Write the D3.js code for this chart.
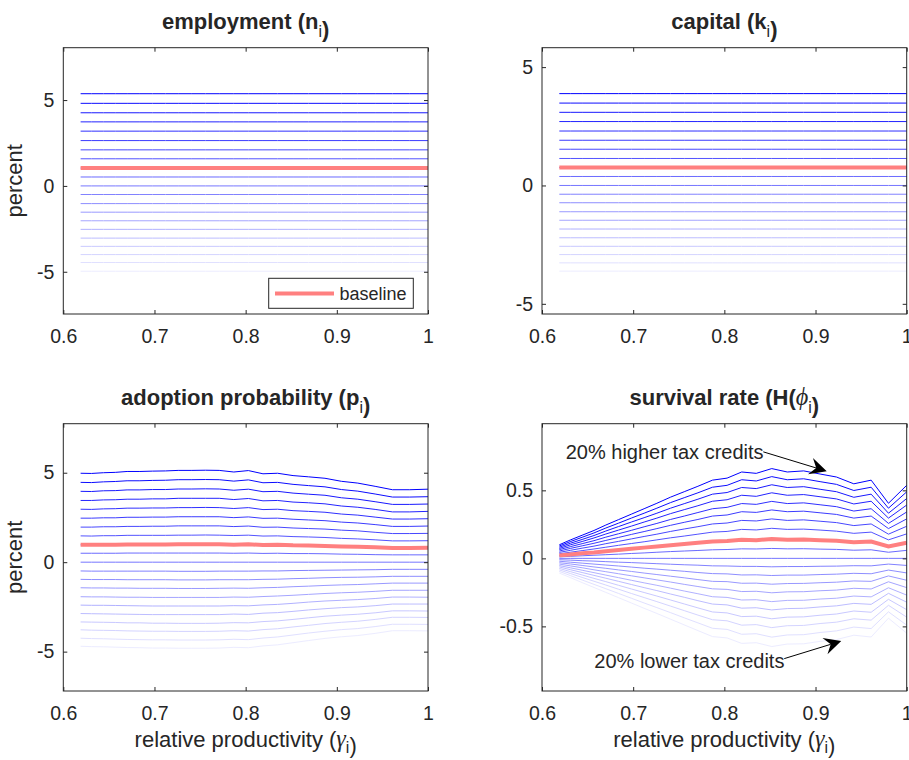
<!DOCTYPE html>
<html>
<head>
<meta charset="utf-8">
<script src="https://cdn.jsdelivr.net/npm/d3@7"></script>
<style>
  body { margin: 0; background: #fff; }
  svg text { font-family: "Liberation Sans", Arial, Helvetica, sans-serif; fill: #262626; }
  .greek { font-family: "Liberation Serif", "DejaVu Serif", serif; font-style: italic; }
</style>
</head>
<body>
<div id="chart"></div>
<script>
// relative productivity grid (x axis)
var gamma = [0.619, 0.631, 0.644, 0.657, 0.670, 0.684, 0.698, 0.712, 0.726, 0.741, 0.756, 0.771, 0.787,
             0.803, 0.819, 0.835, 0.852, 0.869, 0.887, 0.905, 0.923, 0.942, 0.961, 0.980, 1.000];

// change in tax credits for each line, bottom (-20%) to top (+20%)
var taxChange = [-20, -18, -16, -14, -12, -10, -8, -6, -4, -2, 0, 2, 4, 6, 8, 10, 12, 14, 16, 18, 20];
// the baseline line sits on top of this series
var baselineIndex = 12;

// employment and capital: flat lines, one level per series
var employment = [-4.97, -4.46, -4.00, -3.52, -3.04, -2.53, -2.03, -1.53, -1.03, -0.50, 0,
                  0.52, 1.04, 1.58, 2.10, 2.64, 3.19, 3.73, 4.26, 4.81, 5.37];
var capital = [-3.62, -3.27, -2.92, -2.57, -2.21, -1.84, -1.47, -1.11, -0.73, -0.37, 0,
               0.38, 0.76, 1.14, 1.53, 1.91, 2.30, 2.70, 3.09, 3.48, 3.88];

// adoption probability, one row per series (bottom to top), one value per gamma
var adoption = [
  [-4.70,-4.72,-4.73,-4.75,-4.77,-4.78,-4.80,-4.80,-4.81,-4.81,-4.81,-4.80,-4.76,-4.78,-4.68,-4.62,-4.50,-4.38,-4.26,-4.17,-4.10,-3.98,-3.83,-3.83,-3.84],
  [-4.25,-4.27,-4.28,-4.30,-4.32,-4.33,-4.34,-4.34,-4.35,-4.35,-4.35,-4.34,-4.31,-4.33,-4.24,-4.18,-4.07,-3.96,-3.86,-3.77,-3.71,-3.60,-3.47,-3.47,-3.48],
  [-3.78,-3.80,-3.81,-3.82,-3.84,-3.85,-3.86,-3.86,-3.87,-3.87,-3.87,-3.86,-3.83,-3.85,-3.77,-3.72,-3.62,-3.53,-3.43,-3.36,-3.30,-3.20,-3.08,-3.08,-3.09],
  [-3.34,-3.35,-3.36,-3.37,-3.39,-3.39,-3.41,-3.41,-3.42,-3.42,-3.42,-3.41,-3.38,-3.39,-3.32,-3.28,-3.20,-3.11,-3.02,-2.96,-2.91,-2.83,-2.72,-2.72,-2.73],
  [-2.87,-2.88,-2.89,-2.90,-2.91,-2.92,-2.93,-2.93,-2.93,-2.93,-2.93,-2.93,-2.90,-2.92,-2.85,-2.82,-2.75,-2.67,-2.60,-2.54,-2.50,-2.43,-2.34,-2.34,-2.34],
  [-2.40,-2.41,-2.41,-2.42,-2.43,-2.44,-2.45,-2.45,-2.45,-2.45,-2.45,-2.45,-2.43,-2.44,-2.39,-2.36,-2.30,-2.23,-2.17,-2.13,-2.09,-2.03,-1.95,-1.95,-1.96],
  [-1.93,-1.94,-1.94,-1.95,-1.96,-1.96,-1.97,-1.97,-1.97,-1.97,-1.97,-1.97,-1.95,-1.96,-1.92,-1.89,-1.85,-1.80,-1.75,-1.71,-1.68,-1.63,-1.57,-1.57,-1.57],
  [-1.43,-1.44,-1.44,-1.45,-1.45,-1.46,-1.46,-1.46,-1.47,-1.47,-1.47,-1.46,-1.45,-1.46,-1.43,-1.41,-1.37,-1.34,-1.30,-1.27,-1.25,-1.21,-1.17,-1.17,-1.17],
  [-0.96,-0.97,-0.97,-0.97,-0.98,-0.98,-0.98,-0.98,-0.99,-0.99,-0.99,-0.98,-0.98,-0.98,-0.96,-0.95,-0.92,-0.90,-0.87,-0.85,-0.84,-0.82,-0.79,-0.79,-0.79],
  [-0.49,-0.50,-0.50,-0.50,-0.50,-0.50,-0.50,-0.50,-0.51,-0.51,-0.51,-0.50,-0.50,-0.50,-0.49,-0.49,-0.47,-0.46,-0.45,-0.44,-0.43,-0.42,-0.40,-0.40,-0.40],
  [0,0,0,0,0,0,0,0,0,0,0,0,0,0,0,0,0,0,0,0,0,0,0,0,0],
  [0.50,0.50,0.50,0.50,0.51,0.51,0.51,0.51,0.51,0.51,0.51,0.51,0.50,0.51,0.49,0.50,0.48,0.48,0.47,0.45,0.44,0.42,0.41,0.41,0.41],
  [0.97,0.97,0.98,0.98,0.99,0.99,0.99,0.99,1.00,1.00,1.00,1.00,0.98,1.00,0.96,0.97,0.94,0.93,0.91,0.88,0.86,0.83,0.79,0.79,0.80],
  [1.47,1.46,1.48,1.48,1.50,1.50,1.50,1.50,1.51,1.51,1.52,1.51,1.49,1.51,1.46,1.47,1.43,1.41,1.38,1.33,1.30,1.25,1.19,1.19,1.20],
  [1.96,1.96,1.98,1.98,2.00,2.00,2.01,2.01,2.03,2.03,2.03,2.03,1.99,2.02,1.95,1.96,1.91,1.88,1.85,1.79,1.75,1.67,1.60,1.60,1.61],
  [2.46,2.46,2.48,2.48,2.51,2.51,2.52,2.52,2.54,2.54,2.54,2.54,2.49,2.53,2.45,2.46,2.40,2.36,2.32,2.24,2.19,2.10,2.00,2.00,2.02],
  [2.96,2.95,2.98,2.99,3.02,3.02,3.03,3.03,3.05,3.05,3.06,3.05,3.00,3.05,2.94,2.96,2.88,2.84,2.79,2.69,2.63,2.52,2.41,2.41,2.43],
  [3.45,3.45,3.48,3.49,3.52,3.52,3.54,3.54,3.57,3.57,3.57,3.57,3.50,3.56,3.43,3.45,3.36,3.32,3.26,3.14,3.07,2.95,2.81,2.81,2.84],
  [3.96,3.95,3.99,4.00,4.04,4.04,4.06,4.06,4.09,4.09,4.10,4.09,4.02,4.08,3.94,3.96,3.86,3.80,3.74,3.60,3.52,3.38,3.23,3.23,3.25],
  [4.46,4.45,4.49,4.51,4.55,4.55,4.57,4.58,4.61,4.61,4.62,4.61,4.53,4.60,4.44,4.46,4.35,4.28,4.21,4.06,3.97,3.81,3.64,3.64,3.66],
  [4.97,4.96,5.00,5.02,5.07,5.07,5.09,5.10,5.13,5.13,5.14,5.13,5.04,5.12,4.94,4.97,4.84,4.77,4.69,4.52,4.42,4.24,4.05,4.05,4.08]
];

// survival rate, same layout as adoption
var survival = [
  [-0.108,-0.141,-0.178,-0.214,-0.250,-0.289,-0.328,-0.367,-0.405,-0.447,-0.489,-0.531,-0.575,-0.585,-0.625,-0.620,-0.648,-0.630,-0.628,-0.610,-0.597,-0.565,-0.578,-0.440,-0.550],
  [-0.096,-0.126,-0.159,-0.191,-0.223,-0.258,-0.293,-0.328,-0.362,-0.399,-0.437,-0.474,-0.514,-0.522,-0.558,-0.554,-0.579,-0.563,-0.561,-0.545,-0.533,-0.505,-0.516,-0.393,-0.491],
  [-0.085,-0.111,-0.140,-0.168,-0.196,-0.227,-0.258,-0.288,-0.318,-0.351,-0.384,-0.417,-0.451,-0.459,-0.491,-0.487,-0.509,-0.495,-0.493,-0.479,-0.469,-0.444,-0.454,-0.345,-0.432],
  [-0.074,-0.097,-0.122,-0.147,-0.171,-0.198,-0.225,-0.251,-0.277,-0.306,-0.335,-0.364,-0.394,-0.401,-0.428,-0.425,-0.444,-0.432,-0.430,-0.418,-0.409,-0.387,-0.396,-0.301,-0.377],
  [-0.063,-0.083,-0.104,-0.125,-0.146,-0.169,-0.192,-0.215,-0.237,-0.262,-0.286,-0.311,-0.336,-0.342,-0.366,-0.363,-0.379,-0.369,-0.367,-0.357,-0.349,-0.331,-0.338,-0.257,-0.322],
  [-0.053,-0.069,-0.087,-0.105,-0.123,-0.142,-0.161,-0.180,-0.198,-0.219,-0.240,-0.260,-0.282,-0.287,-0.306,-0.304,-0.318,-0.309,-0.308,-0.299,-0.293,-0.277,-0.283,-0.216,-0.270],
  [-0.042,-0.055,-0.069,-0.084,-0.098,-0.113,-0.128,-0.143,-0.158,-0.174,-0.191,-0.207,-0.224,-0.228,-0.244,-0.242,-0.253,-0.246,-0.245,-0.238,-0.233,-0.220,-0.225,-0.172,-0.215],
  [-0.032,-0.041,-0.052,-0.063,-0.073,-0.085,-0.096,-0.108,-0.119,-0.131,-0.143,-0.156,-0.169,-0.171,-0.183,-0.182,-0.190,-0.185,-0.184,-0.179,-0.175,-0.166,-0.169,-0.129,-0.161],
  [-0.021,-0.028,-0.035,-0.042,-0.049,-0.056,-0.064,-0.072,-0.079,-0.087,-0.095,-0.104,-0.112,-0.114,-0.122,-0.121,-0.126,-0.123,-0.123,-0.119,-0.116,-0.110,-0.113,-0.086,-0.107],
  [-0.010,-0.013,-0.017,-0.020,-0.024,-0.028,-0.031,-0.035,-0.039,-0.043,-0.047,-0.050,-0.055,-0.056,-0.059,-0.059,-0.062,-0.060,-0.060,-0.058,-0.057,-0.054,-0.055,-0.042,-0.052],
  [0,0,0,0,0,0,0,0,0,0,0,0,0,0,0,0,0,0,0,0,0,0,0,0,0],
  [0.011,0.015,0.019,0.023,0.027,0.031,0.036,0.040,0.045,0.050,0.054,0.058,0.063,0.065,0.070,0.069,0.073,0.070,0.071,0.068,0.066,0.060,0.063,0.045,0.059],
  [0.022,0.029,0.037,0.044,0.053,0.061,0.070,0.079,0.087,0.097,0.105,0.114,0.124,0.127,0.137,0.134,0.142,0.137,0.138,0.133,0.129,0.118,0.124,0.087,0.115],
  [0.034,0.045,0.057,0.069,0.082,0.096,0.109,0.122,0.136,0.151,0.164,0.178,0.193,0.198,0.213,0.209,0.221,0.213,0.215,0.208,0.200,0.184,0.193,0.136,0.180],
  [0.044,0.059,0.075,0.090,0.108,0.125,0.143,0.161,0.178,0.198,0.216,0.233,0.253,0.260,0.279,0.275,0.290,0.279,0.283,0.273,0.263,0.241,0.253,0.178,0.236],
  [0.054,0.073,0.092,0.111,0.132,0.154,0.176,0.197,0.219,0.243,0.265,0.286,0.311,0.319,0.343,0.338,0.356,0.343,0.347,0.335,0.323,0.296,0.311,0.219,0.290],
  [0.064,0.086,0.108,0.130,0.156,0.181,0.206,0.232,0.257,0.286,0.311,0.337,0.365,0.375,0.403,0.397,0.419,0.403,0.408,0.394,0.380,0.348,0.365,0.257,0.341],
  [0.073,0.099,0.124,0.150,0.179,0.208,0.237,0.267,0.296,0.329,0.358,0.387,0.420,0.431,0.464,0.456,0.482,0.464,0.469,0.453,0.437,0.400,0.420,0.296,0.392],
  [0.082,0.111,0.139,0.168,0.201,0.234,0.267,0.299,0.332,0.369,0.402,0.435,0.472,0.484,0.521,0.513,0.541,0.521,0.527,0.508,0.490,0.449,0.472,0.332,0.440],
  [0.091,0.123,0.155,0.187,0.223,0.259,0.296,0.332,0.369,0.410,0.446,0.482,0.523,0.537,0.578,0.569,0.601,0.578,0.585,0.564,0.544,0.499,0.523,0.369,0.489],
  [0.100,0.135,0.170,0.205,0.245,0.285,0.325,0.365,0.405,0.450,0.490,0.530,0.575,0.590,0.635,0.625,0.660,0.635,0.643,0.620,0.598,0.548,0.575,0.405,0.537]
];

// tick values and labels
var xTicks = [0.6, 0.7, 0.8, 0.9, 1];
var percentTicks = [-5, 0, 5];
var survivalTicks = [-0.5, 0, 0.5];

var W = 909, H = 760;

var svg = d3.select("#chart").append("svg")
            .attr("width", W)
            .attr("height", H);

// flat series: the same level at every gamma
function flat(levels) {
  return levels.map(function(v) { return gamma.map(function() { return v; }); });
}

var panels = [
  { title: [["employment (n"], ["i", "sub"], [")"]], rows: flat(employment),
    box: [63.3, 47.7, 428, 314], ydom: [-7.46, 8.05], yticks: percentTicks, ylab: true, xlab: false, legend: true },
  { title: [["capital (k"], ["i", "sub"], [")"]], rows: flat(capital),
    box: [542, 47.7, 906.7, 314], ydom: [-5.43, 5.82], yticks: percentTicks, ylab: false, xlab: false },
  { title: [["adoption probability (p"], ["i", "sub"], [")"]], rows: adoption,
    box: [63.3, 423.7, 428, 691], ydom: [-7.2, 7.74], yticks: percentTicks, ylab: true, xlab: true },
  { title: [["survival rate (H("], ["\u03D5", "greek"], ["i", "sub"], [")"]], rows: survival,
    box: [542, 423.7, 906.7, 691], ydom: [-0.975, 0.99], yticks: survivalTicks, ylab: false, xlab: true, notes: true }
];

// light blue at -20% up to pure blue at +20%
var shade = d3.interpolateRgb("rgb(236,236,255)", "rgb(0,0,255)");

// writes text made of plain, greek and subscript parts
function richText(sel, parts, size, drop) {
  parts.forEach(function(p) {
    var t = sel.append("tspan").text(p[0]);
    if (p[1] == "greek") t.attr("class", "greek").attr("font-weight", "normal").attr("font-size", size * 1.1);
    if (p[1] == "sub") {
      t.attr("font-size", size * 0.72).attr("dy", size * drop).attr("font-weight", "normal");
      sel.append("tspan").attr("dy", -size * drop).text("");
    }
  });
}

panels.forEach(function(p) {
  var x0 = p.box[0], y0 = p.box[1], x1 = p.box[2], y1 = p.box[3];

  var x = d3.scaleLinear().domain([0.6, 1]).range([x0, x1]);
  var y = d3.scaleLinear().domain(p.ydom).range([y1, y0]);

  var g = svg.append("g");

  var line = d3.line()
               .x(function(d, i) { return x(gamma[i]); })
               .y(function(d) { return y(d); });

  // one blue line per tax credit change
  g.append("g")
   .selectAll("path")
   .data(p.rows)
   .enter()
   .append("path")
     .attr("d", line)
     .attr("fill", "none")
     .attr("stroke", function(d, i) { return shade(i / (taxChange.length - 1)); })
     .attr("stroke-width", 1);

  // baseline in thick red on top
  g.append("path")
   .attr("d", line(p.rows[baselineIndex]))
   .attr("fill", "none")
   .attr("stroke", "#ff8080")
   .attr("stroke-width", 4);

  var fmt = function(d) { return String(d); };

  var bottom = d3.axisBottom(x).tickValues(xTicks).tickFormat(fmt).tickSizeInner(-4).tickSizeOuter(0).tickPadding(15);
  var top    = d3.axisTop(x).tickValues(xTicks).tickFormat("").tickSizeInner(-4).tickSizeOuter(0);
  var left   = d3.axisLeft(y).tickValues(p.yticks).tickFormat(fmt).tickSizeInner(-4).tickSizeOuter(0).tickPadding(9);
  var right  = d3.axisRight(y).tickValues(p.yticks).tickFormat("").tickSizeInner(-4).tickSizeOuter(0);

  [[bottom, "translate(0," + y1 + ")"], [top, "translate(0," + y0 + ")"],
   [left, "translate(" + x0 + ",0)"], [right, "translate(" + x1 + ",0)"]].forEach(function(a) {
    var ax = g.append("g").attr("transform", a[1]).call(a[0]);
    ax.attr("font-size", 19.5).attr("font-family", null).attr("color", "#262626");
    ax.select(".domain").remove();
  });

  g.append("rect")
   .attr("x", x0).attr("y", y0)
   .attr("width", x1 - x0).attr("height", y1 - y0)
   .attr("fill", "none")
   .attr("stroke", "#262626")
   .attr("stroke-width", 1);

  // title
  var title = g.append("text")
               .attr("x", (x0 + x1) / 2)
               .attr("y", y0 - 19)
               .attr("text-anchor", "middle")
               .attr("font-size", 22)
               .attr("font-weight", "bold");
  richText(title, p.title, 22, 0.38);

  if (p.ylab) {
    g.append("text")
     .attr("transform", "translate(" + 22 + "," + ((y0 + y1) / 2) + ") rotate(-90)")
     .attr("text-anchor", "middle")
     .attr("font-size", 22)
     .text("percent");
  }

  if (p.xlab) {
    var xl = g.append("text")
              .attr("x", (x0 + x1) / 2)
              .attr("y", y1 + 56)
              .attr("text-anchor", "middle")
              .attr("font-size", 22);
    richText(xl, [["relative productivity ("], ["\u03B3", "greek"], ["i", "sub"], [")"]], 22, 0.28);
  }

  if (p.legend) {
    var lg = g.append("g");
    lg.append("rect")
      .attr("x", 268.7).attr("y", 278.3)
      .attr("width", 144.6).attr("height", 30)
      .attr("fill", "#fff")
      .attr("stroke", "#262626")
      .attr("stroke-width", 1);
    lg.append("line")
      .attr("x1", 275).attr("x2", 334)
      .attr("y1", 293.5).attr("y2", 293.5)
      .attr("stroke", "#ff8080")
      .attr("stroke-width", 4);
    lg.append("text")
      .attr("x", 339.5).attr("y", 300)
      .attr("font-size", 18)
      .text("baseline");
  }

  if (p.notes) {
    // text arrows pointing at the highest and lowest line
    var notes = [
      { text: "20% higher tax credits", tx: 0.626, ty: 0.727, from: [0.8427, 0.783], to: [0.9123, 0.641] },
      { text: "20% lower tax credits",  tx: 0.6574, ty: -0.805, from: [0.8657, -0.737], to: [0.9282, -0.608] }
    ];
    notes.forEach(function(n) {
      g.append("text")
       .attr("x", x(n.tx)).attr("y", y(n.ty))
       .attr("font-size", 20)
       .text(n.text);

      var ax0 = x(n.from[0]), ay0 = y(n.from[1]), ax1 = x(n.to[0]), ay1 = y(n.to[1]);
      var ang = Math.atan2(ay1 - ay0, ax1 - ax0),
          L = 17, Wd = 8.5, notch = 11;
      var ux = Math.cos(ang), uy = Math.sin(ang);
      var bx = ax1 - ux * L, by = ay1 - uy * L;
      var nx = ax1 - ux * notch, ny = ay1 - uy * notch;

      g.append("line")
       .attr("x1", ax0).attr("y1", ay0)
       .attr("x2", nx).attr("y2", ny)
       .attr("stroke", "#000")
       .attr("stroke-width", 1);

      g.append("path")
       .attr("d", "M" + ax1 + "," + ay1 +
                  "L" + (bx - uy * Wd) + "," + (by + ux * Wd) +
                  "L" + nx + "," + ny +
                  "L" + (bx + uy * Wd) + "," + (by - ux * Wd) + "Z")
       .attr("fill", "#000");
    });
  }
});
</script>
</body>
</html>
